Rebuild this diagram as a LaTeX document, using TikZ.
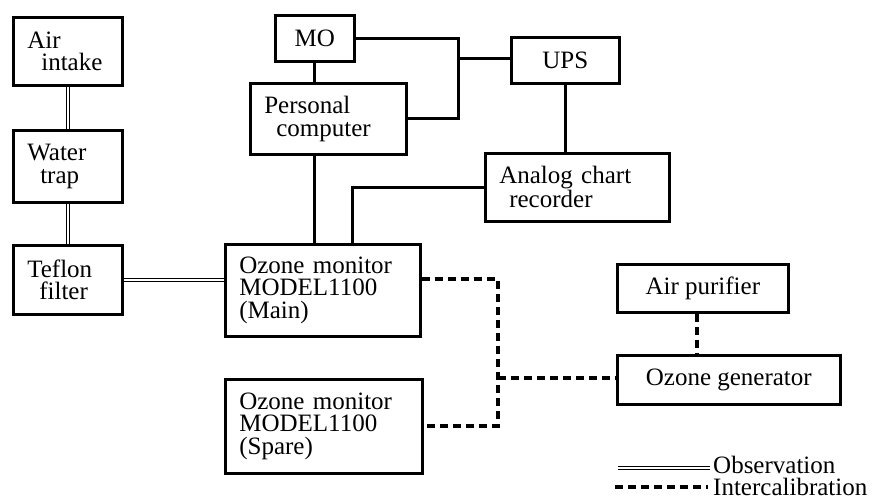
\documentclass[tikz,border=0pt]{standalone}
\usepackage{fontspec}
\setmainfont{Liberation Serif}
\begin{document}
\begin{tikzpicture}[x=1pt,y=-1pt,font=\fontsize{25}{22.5}\selectfont,box/.style={draw,line width=2.6pt,anchor=north west,inner xsep=14pt,inner ysep=0pt},tbox/.style={box,align=left,text width=#1},cbox/.style={box,align=center},link/.style={line width=3pt},obs/.style={double,line width=1.3pt,double distance=1.8pt},intercal/.style={line width=4pt,dash pattern=on 8pt off 5pt},legend/.style={anchor=base west,inner sep=0pt}]
\useasboundingbox (0,0) rectangle (883,503);
\node[tbox=81,minimum height=68] (air) at (12,16) {Air\\\hspace*{14pt}intake};
\node[tbox=81,minimum height=72] (water) at (12,129) {Water\\\hspace*{13pt}trap};
\node[tbox=81,minimum height=69] (teflon) at (12,244) {Teflon\\\hspace*{12pt}filter};
\node[cbox,minimum width=79,minimum height=46] (mo) at (274,14) {MO};
\node[tbox=128,minimum height=71] (pc) at (249,82) {Personal\\\hspace*{12pt}computer};
\node[cbox,minimum width=108,minimum height=46] (ups) at (510,36) {UPS};
\node[tbox=156,minimum height=68] (analog) at (484,152) {Analog chart\\\hspace*{10pt}recorder};
\node[tbox=167,minimum height=92] (main) at (224,243) {Ozone monitor\\MODEL1100\\(Main)};
\node[tbox=169,minimum height=94] (spare) at (224,378) {Ozone monitor\\MODEL1100\\(Spare)};
\node[cbox,minimum width=171,minimum height=48] (purifier) at (616,263) {Air purifier};
\node[cbox,minimum width=223,minimum height=49] (gen) at (616,354) {Ozone generator};
\draw[obs] (air) -- (water);
\draw[obs] (water) -- (teflon);
\draw[obs] (teflon) -- (teflon -| main.west);
\draw[link] (mo) -- (mo |- pc.north);
\draw[link] (pc.south -| mo) -- (main.north -| mo);
\coordinate (jn) at (458,59);
\draw[link] (mo.east) -| (jn) |- (pc.east);
\draw[link] (jn) -- (jn -| ups.west);
\draw[link] (ups) -- (ups |- analog.north);
\draw[link] (analog) -| ([xshift=30pt]main.north);
\coordinate (bus) at (498,378);
\draw[intercal] ([yshift=11pt]main.east) -| (bus) |- (spare);
\draw[intercal] (bus) -- (bus -| gen.west);
\draw[intercal] ([xshift=-6pt]purifier.south) -- ([xshift=-6pt]purifier.south |- gen.north);
\node[legend] (lobs) at (713,473) {Observation};
\node[legend] (lint) at (713,495) {Intercalibration};
\coordinate (lo) at (618,468);
\draw[obs] (lo) -- ([xshift=-3pt]lo -| lobs.west);
\coordinate (li) at (615,487);
\draw[intercal] (li) -- ([xshift=-5pt]li -| lint.west);
\end{tikzpicture}
\end{document}
